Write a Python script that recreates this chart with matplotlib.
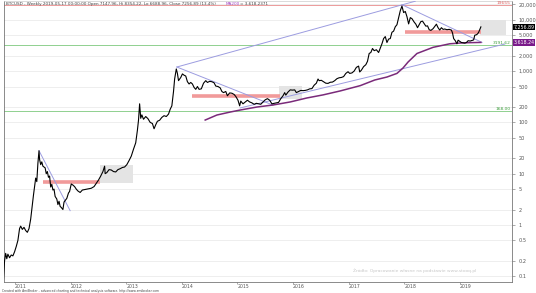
import matplotlib
matplotlib.use("Agg")
import matplotlib.pyplot as plt
import matplotlib.transforms as mtransforms

# weekly-ish closes (decimal year, price)
price_x = [2010.79, 2010.81, 2010.83, 2010.85, 2010.87, 2010.90, 2010.93, 2010.96, 2010.99,
           2011.02, 2011.05, 2011.08, 2011.10, 2011.13, 2011.16, 2011.19, 2011.22, 2011.25,
           2011.28, 2011.31, 2011.33, 2011.35, 2011.37, 2011.39, 2011.41, 2011.43, 2011.44,
           2011.46, 2011.48, 2011.50, 2011.52, 2011.54, 2011.56, 2011.58, 2011.60, 2011.62,
           2011.64, 2011.66, 2011.68, 2011.70, 2011.72, 2011.75, 2011.77, 2011.79, 2011.81,
           2011.83, 2011.86, 2011.88, 2011.90, 2011.93, 2011.96, 2011.98,
           2012.01, 2012.04, 2012.07, 2012.10, 2012.13, 2012.17, 2012.21, 2012.25, 2012.29,
           2012.33, 2012.37, 2012.42, 2012.46, 2012.50, 2012.54, 2012.58, 2012.61, 2012.62,
           2012.65, 2012.69, 2012.73, 2012.77, 2012.81, 2012.85, 2012.89, 2012.93, 2012.97,
           2013.01, 2013.05, 2013.09, 2013.13, 2013.17, 2013.20, 2013.22, 2013.24, 2013.26,
           2013.28, 2013.31, 2013.35, 2013.39, 2013.43, 2013.47, 2013.50, 2013.53, 2013.56,
           2013.60, 2013.64, 2013.68, 2013.72, 2013.76, 2013.79, 2013.82, 2013.85, 2013.87,
           2013.90, 2013.92, 2013.94, 2013.96, 2013.98,
           2014.01, 2014.04, 2014.07, 2014.10, 2014.13, 2014.16, 2014.19, 2014.22, 2014.25,
           2014.28, 2014.31, 2014.35, 2014.39, 2014.43, 2014.46, 2014.50, 2014.54, 2014.58,
           2014.61, 2014.65, 2014.69, 2014.72, 2014.75, 2014.79, 2014.82, 2014.86, 2014.90,
           2014.94, 2014.97,
           2015.01, 2015.04, 2015.06, 2015.10, 2015.14, 2015.18, 2015.22, 2015.26, 2015.30,
           2015.34, 2015.38, 2015.42, 2015.46, 2015.50, 2015.54, 2015.58, 2015.62, 2015.66,
           2015.70, 2015.74, 2015.78, 2015.82, 2015.85, 2015.87, 2015.91, 2015.95, 2015.99,
           2016.03, 2016.06, 2016.10, 2016.14, 2016.18, 2016.22, 2016.26, 2016.30, 2016.34,
           2016.38, 2016.42, 2016.45, 2016.47, 2016.51, 2016.55, 2016.59, 2016.63, 2016.67,
           2016.71, 2016.75, 2016.79, 2016.83, 2016.87, 2016.91, 2016.95, 2016.99,
           2017.02, 2017.06, 2017.10, 2017.14, 2017.18, 2017.20, 2017.23, 2017.27, 2017.31,
           2017.34, 2017.37, 2017.40, 2017.43, 2017.46, 2017.50, 2017.54, 2017.57, 2017.60,
           2017.63, 2017.66, 2017.69, 2017.72, 2017.75, 2017.78, 2017.81, 2017.84, 2017.87,
           2017.90, 2017.93, 2017.96, 2017.99,
           2018.02, 2018.05, 2018.08, 2018.11, 2018.14, 2018.18, 2018.21, 2018.24, 2018.27,
           2018.30, 2018.33, 2018.36, 2018.39, 2018.42, 2018.45, 2018.48, 2018.52, 2018.55,
           2018.58, 2018.61, 2018.64, 2018.67, 2018.70, 2018.73, 2018.77, 2018.81, 2018.85,
           2018.87, 2018.89, 2018.92, 2018.95, 2018.97,
           2019.00, 2019.03, 2019.06, 2019.09, 2019.12, 2019.15, 2019.19, 2019.22, 2019.25,
           2019.27, 2019.30, 2019.32, 2019.34, 2019.36, 2019.38]
price_y = [0.085, 0.20, 0.28, 0.22, 0.27, 0.23, 0.26, 0.25, 0.30,
           0.38, 0.50, 0.85, 0.95, 0.82, 0.90, 0.78, 0.72, 0.85,
           1.3, 2.5, 3.8, 5.5, 8.2, 7.0, 16, 28, 19,
           15, 17, 14, 13.5, 13, 10, 11, 8.5, 9.0,
           5.5, 6.2, 4.8, 5.0, 3.6, 3.2, 2.5, 2.9, 2.3,
           2.2, 2.0, 2.8, 3.0, 3.3, 4.2, 4.5,
           6.3, 6.0, 5.6, 5.0, 4.6, 4.3, 4.8, 4.9, 5.0,
           5.1, 5.2, 5.6, 6.5, 7.5, 9.0, 11, 14, 10,
           10.5, 12, 11.8, 11.0, 10.8, 12.0, 12.5, 13.2, 13.5,
           15, 18, 22, 30, 40, 70, 110, 230, 120,
           140, 115, 130, 118, 100, 95, 75, 90, 105,
           110, 125, 135, 130, 145, 180, 210, 400, 700,
           1100, 900, 650, 700, 750,
           880, 830, 800, 620, 560, 600, 560, 480, 440,
           500, 440, 450, 580, 650, 600, 630, 620, 590,
           510, 500, 470, 400, 380, 400, 330, 375, 370,
           350, 320,
           270, 210, 260, 230, 250, 270, 250, 240, 225,
           235, 230, 225, 250, 275, 290, 270, 230, 235,
           240, 245, 290, 330, 380, 340, 390, 430, 425,
           430, 380, 400, 420, 415, 420, 430, 450, 455,
           530, 580, 700, 650, 660, 620, 580, 575, 605,
           610, 650, 710, 740, 750, 780, 900, 970,
           900, 920, 1000, 1180, 1250, 960, 1040, 1220, 1330,
           1550, 2200, 2300, 2750, 2500, 2600, 2300, 2800, 3400,
           4300, 4700, 3600, 4200, 4300, 5700, 6000, 7300, 8000,
           11000, 15000, 18500, 13800,
           14500, 11500, 8300, 11000, 10500, 9000, 8200, 7000, 8000,
           9200, 9400, 8400, 7500, 7600, 6400, 6200, 6700, 7400,
           8200, 7000, 6300, 7000, 6500, 6600, 6400, 6500, 6300,
           5500, 4300, 3900, 3400, 4000,
           3800, 3600, 3550, 3500, 3600, 3900, 3850, 3950, 4050,
           5000, 5100, 5300, 5700, 6400, 7256.89]

# 200-week moving average as drawn
ma_x = [2014.42, 2014.63, 2014.87, 2015.05, 2015.35, 2015.64, 2015.95, 2016.25, 2016.54,
        2016.85, 2017.21, 2017.47, 2017.69, 2017.87, 2017.98, 2018.07, 2018.23, 2018.52,
        2018.82, 2019.06, 2019.38]
ma_y = [111, 139, 159, 174, 199, 218, 250, 299, 343,
        410, 520, 669, 765, 900, 1150, 1500, 2200, 2900,
        3400, 3550, 3618.24]

# trend lines (start/end points)
trend_lines = [
    ([2013.91, 2018.20], [1199, 23000]),   # upper channel
    ([2015.05, 2019.81], [191, 3360]),     # lower channel
    ([2013.91, 2015.64], [1199, 217]),     # 2014 down trend
    ([2017.96, 2019.40], [19655, 3618]),   # 2018 down trend
    ([2011.43, 2011.99], [28, 1.9]),       # 2011 down trend
]

# resistance zones: x start, x end, level
zone_x0 = [2011.50, 2014.18, 2018.01]
zone_x1 = [2012.53, 2015.77, 2019.38]
zone_lvl = [6.9, 330, 5700]

# shaded boxes: x0, x1, low, high
box_x0 = [2012.53, 2015.75, 2019.37]
box_x1 = [2013.12, 2016.16, 2019.83]
box_lo = [6.6, 290, 5040]
box_hi = [14.7, 510, 9900]

hlines_val = [19655, 3191.62, 168.00]
hlines_lbl = ["19655", "3191.62", "168.00"]
hlines_col = ["#ec9a9a", "#8fd08f", "#8fd08f"]
hlabel_col = ["#e06060", "#3fa03f", "#3fa03f"]

ytick_vals = [20000, 10000, 5000, 2000, 1000, 500, 200, 100, 50, 20, 10, 5, 2, 1, 0.5, 0.2, 0.1]
ytick_lbls = ["20,000", "10,000", "5,000", "2,000", "1,000", "500", "200", "100", "50",
              "20", "10", "5", "2", "1", "0.5", "0.2", "0.1"]
years = [2011, 2012, 2013, 2014, 2015, 2016, 2017, 2018, 2019]

fig = plt.figure(figsize=(5.36, 2.93), dpi=100)
ax = fig.add_axes([4 / 536, 11 / 293, 508 / 536, 281 / 293])
ax.set_yscale("log")
ax.set_xlim(2010.80, 2019.94)
ax.set_ylim(0.0774, 23200)

ax.grid(axis="y", color="#e8e8e8", lw=0.5)
ax.set_axisbelow(True)

for x0, x1, lo, hi in zip(box_x0, box_x1, box_lo, box_hi):
    ax.fill_between([x0, x1], lo, hi, color="#e4e4e4", lw=0, zorder=1)

for v, c in zip(hlines_val, hlines_col):
    ax.axhline(v, color=c, lw=0.7, zorder=2)

for x0, x1, lvl in zip(zone_x0, zone_x1, zone_lvl):
    ax.plot([x0, x1], [lvl, lvl], color="#f19a9a", lw=2.6, solid_capstyle="butt", zorder=3)

for xs, ys in trend_lines:
    ax.plot(xs, ys, color="#9c9ce0", lw=0.7, zorder=4)

ax.plot(ma_x, ma_y, color="#7a2a7a", lw=1.1, zorder=5)
ax.plot(price_x, price_y, color="black", lw=0.8, zorder=6)

trans = mtransforms.blended_transform_factory(ax.transAxes, ax.transData)
for v, lbl, col in zip(hlines_val, hlines_lbl, hlabel_col):
    ax.text(0.997, v, lbl, transform=trans, ha="right", va="bottom", fontsize=3.2, color=col)

ax.text(1.003, price_y[-1], "7,256.89", transform=trans, ha="left", va="center", fontsize=3.4,
        color="white", bbox=dict(facecolor="black", edgecolor="none", pad=0.5), clip_on=False)
ax.text(1.003, ma_y[-1], "3,618.24", transform=trans, ha="left", va="center", fontsize=3.4,
        color="white", bbox=dict(facecolor="#7a1a8a", edgecolor="none", pad=0.5), clip_on=False)

ax.yaxis.tick_right()
ax.set_yticks(ytick_vals)
ax.set_yticklabels(ytick_lbls)
ax.minorticks_off()
ax.tick_params(axis="y", labelsize=3.6, length=2, width=0.5, color="#888888", labelcolor="#555555", pad=3)
ax.set_xticks(years)
ax.set_xticklabels([str(y) for y in years], ha="left")
ax.tick_params(axis="x", labelsize=3.3, length=1.5, width=0.5, color="#888888", labelcolor="#555555", pad=0.3)

for s in ["left", "bottom", "right"]:
    ax.spines[s].set_color("#777777")
    ax.spines[s].set_linewidth(0.6)
ax.spines["top"].set_color("#cccccc")
ax.spines["top"].set_linewidth(0.5)

fig.text(6 / 536, 1 - 4 / 293,
         "BTCUSD - Weekly 2019-05-17 00:00:00 Open 7147.96, Hi 8354.22, Lo 6688.96, Close 7256.89 (13.4%)",
         fontsize=3.0, color="#444444", va="center", ha="left")
fig.text(226 / 536, 1 - 4 / 293, "MA200", fontsize=3.0, color="#a040c0", va="center", ha="left")
fig.text(240 / 536, 1 - 4 / 293, "= 3,618.2371", fontsize=3.0, color="#444444", va="center", ha="left")

ax.text(0.93, 0.04, "Źródło: Opracowanie własne na podstawie www.stooq.pl", transform=ax.transAxes,
        fontsize=3.2, color="#c8c8c8", ha="right", va="center")
fig.text(2 / 536, 0.2 / 293,
         "Created with AmiBroker - advanced charting and technical analysis software. http://www.amibroker.com",
         fontsize=2.2, color="#444444", ha="left", va="bottom")

fig.savefig("out.png", dpi=100, facecolor="white")
